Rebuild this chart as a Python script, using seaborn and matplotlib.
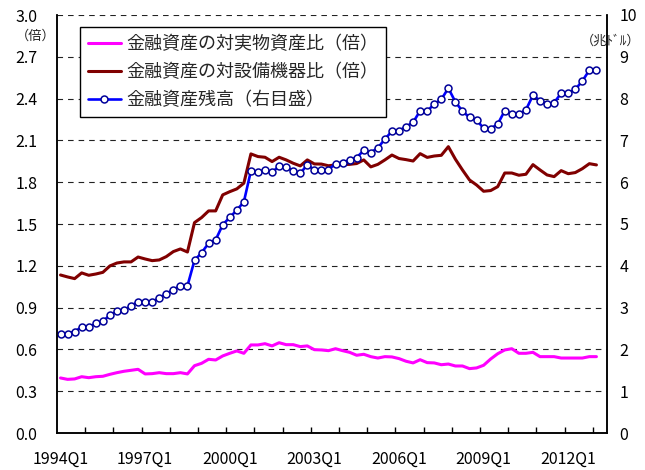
import matplotlib
matplotlib.use("Agg")
import matplotlib.pyplot as plt
import numpy as np
import pandas as pd
import seaborn as sns
from matplotlib.ticker import FixedLocator, FormatStrFormatter

PINK = "#ff00ff"
MAROON = "#800000"
BLUE = "#0000ff"
NAVY = "#000099"
FONT = ["Noto Sans CJK JP", "DejaVu Sans"]

# quarterly categories, 1994Q1 .. 2013Q1
QUARTERS = [f"{y}Q{q}" for y in range(1994, 2014) for q in range(1, 5)][:77]

# 金融資産の対実物資産比（倍）
real_asset_ratio = [
    0.395, 0.385, 0.388, 0.404, 0.397, 0.404, 0.407, 0.421, 0.433, 0.443,
    0.450, 0.457, 0.424, 0.426, 0.433, 0.426, 0.426, 0.433, 0.424, 0.483,
    0.500, 0.529, 0.524, 0.553, 0.572, 0.589, 0.572, 0.632, 0.632, 0.641,
    0.625, 0.648, 0.634, 0.634, 0.620, 0.625, 0.598, 0.596, 0.591, 0.605,
    0.591, 0.579, 0.558, 0.565, 0.548, 0.538, 0.548, 0.546, 0.534, 0.515,
    0.503, 0.526, 0.505, 0.503, 0.490, 0.495, 0.481, 0.481, 0.462, 0.467,
    0.486, 0.531, 0.569, 0.596, 0.605, 0.572, 0.572, 0.579, 0.548, 0.548,
    0.548, 0.538, 0.538, 0.538, 0.538, 0.548, 0.548,
]

# 金融資産の対設備機器比（倍）
equipment_ratio = [
    1.134, 1.120, 1.108, 1.149, 1.132, 1.141, 1.153, 1.199, 1.220, 1.228,
    1.228, 1.263, 1.249, 1.237, 1.242, 1.266, 1.302, 1.321, 1.299, 1.510,
    1.546, 1.594, 1.594, 1.709, 1.732, 1.752, 1.793, 2.003, 1.984, 1.979,
    1.948, 1.979, 1.960, 1.936, 1.917, 1.960, 1.931, 1.930, 1.918, 1.924,
    1.927, 1.928, 1.934, 1.960, 1.910, 1.928, 1.960, 1.995, 1.970, 1.962,
    1.952, 2.005, 1.978, 1.988, 1.993, 2.055, 1.965, 1.888, 1.816, 1.780,
    1.735, 1.740, 1.768, 1.866, 1.866, 1.850, 1.857, 1.926, 1.888, 1.852,
    1.840, 1.883, 1.861, 1.869, 1.897, 1.933, 1.924,
]

# 金融資産残高（兆ドル, 右目盛）
financial_assets = [
    2.38, 2.38, 2.42, 2.54, 2.53, 2.62, 2.67, 2.82, 2.91, 2.94,
    3.04, 3.14, 3.14, 3.14, 3.23, 3.33, 3.43, 3.52, 3.52, 4.13,
    4.31, 4.54, 4.62, 4.98, 5.16, 5.33, 5.53, 6.27, 6.24, 6.29,
    6.24, 6.38, 6.36, 6.27, 6.21, 6.42, 6.29, 6.30, 6.30, 6.44,
    6.47, 6.53, 6.59, 6.76, 6.71, 6.82, 7.03, 7.22, 7.23, 7.33,
    7.43, 7.71, 7.70, 7.87, 7.98, 8.25, 7.92, 7.70, 7.55, 7.49,
    7.29, 7.28, 7.39, 7.71, 7.63, 7.63, 7.73, 8.08, 7.95, 7.87,
    7.90, 8.13, 8.13, 8.22, 8.42, 8.68, 8.68,
]

LABELS = [
    "金融資産の対実物資産比（倍）",
    "金融資産の対設備機器比（倍）",
    "金融資産残高（右目盛）",
]


def main() -> None:
    sns.set_theme(style="white")
    plt.rcParams["font.family"] = FONT
    plt.rcParams["axes.unicode_minus"] = False

    df = pd.DataFrame({
        "quarter": QUARTERS,
        "pos": np.arange(len(QUARTERS)),
        "real": real_asset_ratio,
        "equip": equipment_ratio,
        "assets": financial_assets,
    })

    fig = plt.figure(figsize=(6.45, 4.70), dpi=100, facecolor="white")
    ax = fig.add_axes([57 / 645, 37 / 470, 550 / 645, 418 / 470])
    ax2 = ax.twinx()

    sns.lineplot(data=df, x="pos", y="real", color=PINK, lw=2.2, ax=ax, legend=False)
    sns.lineplot(data=df, x="pos", y="equip", color=MAROON, lw=2.2, ax=ax, legend=False)
    sns.lineplot(
        data=df, x="pos", y="assets", color=BLUE, lw=1.9, ax=ax2, legend=False,
        marker="o", markersize=5.0, markerfacecolor="white",
        markeredgecolor=NAVY, markeredgewidth=1.1,
    )

    # left axis
    ax.set_ylim(0, 3.0)
    ax.yaxis.set_major_locator(FixedLocator(np.arange(0, 3.01, 0.3)))
    ax.yaxis.set_major_formatter(FormatStrFormatter("%.1f"))
    ax.grid(axis="y", color="#222222", lw=0.8, ls=(0, (5, 4.5)))
    ax.grid(axis="x", visible=False)
    ax.tick_params(axis="y", length=0, pad=14, labelsize=11.5, colors="black")

    # right axis
    ax2.set_ylim(0, 10)
    ax2.yaxis.set_major_locator(FixedLocator(np.arange(0, 11, 1)))
    ax2.yaxis.set_major_formatter(FormatStrFormatter("%d"))
    ax2.grid(False)
    ax2.tick_params(axis="y", length=0, pad=9, labelsize=11.5, colors="black")

    # category axis
    ax.set_xlim(-0.5, len(QUARTERS) + 0.5)
    major = np.arange(0, len(QUARTERS), 12)
    ax.set_xticks(major)
    ax.set_xticklabels([QUARTERS[i] for i in major])
    ax.set_xticks(np.arange(3.5, len(QUARTERS), 4), minor=True)
    ax.tick_params(axis="x", which="major", length=0, pad=13, labelsize=11.5, colors="black")
    ax.tick_params(axis="x", which="minor", direction="in", length=4, width=1, color="black",
                   bottom=True)

    for a in (ax, ax2):
        a.set_xlabel("")
        a.set_ylabel("")
        for side in ("left", "right", "bottom"):
            a.spines[side].set_color("black")
            a.spines[side].set_linewidth(1.1)
        a.spines["top"].set_visible(False)

    fig.text(36 / 645, 1 - 36 / 470, "（倍）", fontsize=9.5, ha="center", va="center")
    fig.text(611 / 645, 1 - 41 / 470, "（兆ﾄﾞﾙ）", fontsize=9.5, ha="center", va="center")

    handles = ax.get_lines()[:2] + ax2.get_lines()[:1]
    leg = ax2.legend(
        handles, LABELS, loc="upper left", bbox_to_anchor=(0.042, 0.971),
        borderaxespad=0, fontsize=13, frameon=True, fancybox=False,
        edgecolor="black", framealpha=1, handlelength=1.8, handletextpad=0.3,
        labelspacing=0.55, borderpad=0.45, numpoints=1,
    )
    leg.get_frame().set_linewidth(1.0)

    fig.savefig("out.png", dpi=100, facecolor="white")
    plt.close(fig)


if __name__ == "__main__":
    main()
